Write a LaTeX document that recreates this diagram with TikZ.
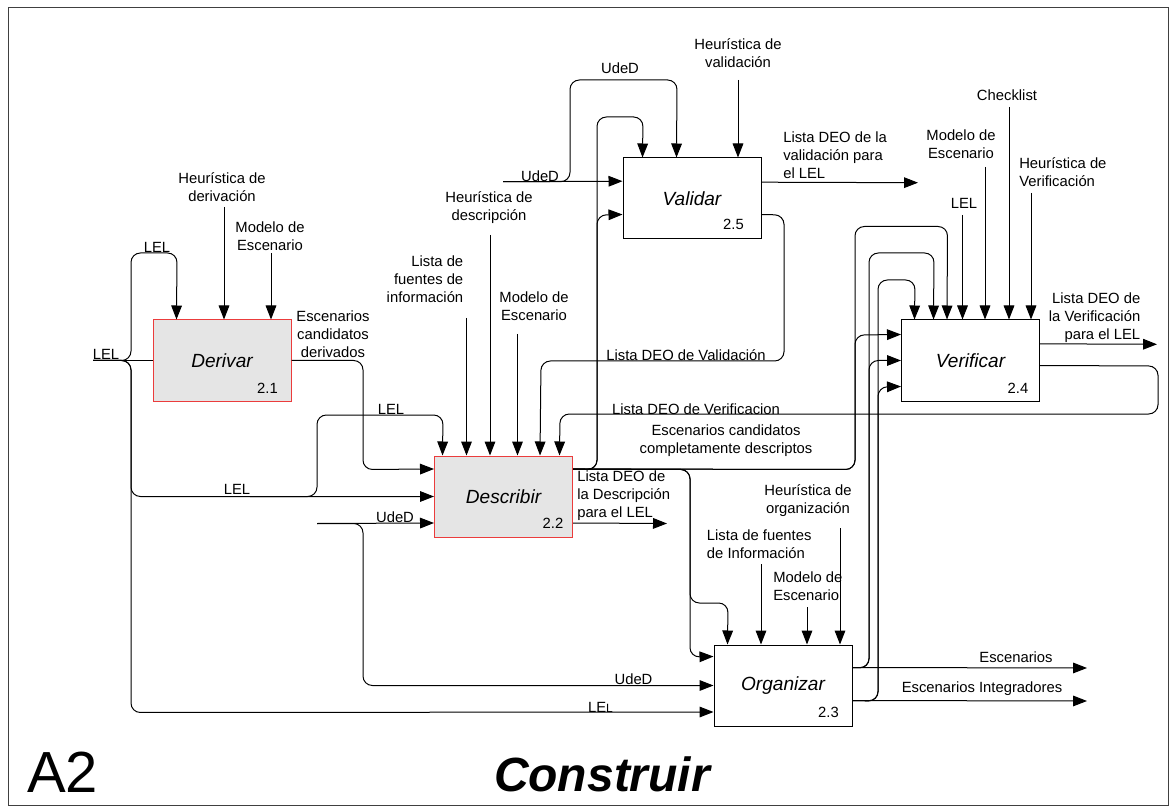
\documentclass[tikz,border=0pt]{standalone}
\usepackage{fontspec}
\setmainfont{Liberation Sans}
\usetikzlibrary{arrows.meta,calc}
\definecolor{boxred}{RGB}{235,60,60}
\tikzset{
  ln/.style={line width=0.75pt, rounded corners=7pt},
  arr/.style={ln, -{Triangle[length=10.5pt,width=8pt]}},
  box/.style={draw, line width=0.75pt, minimum width=103.5pt, minimum height=60.75pt, inner sep=0pt, fill=white, font=\fontsize{14.3}{16}\selectfont\itshape},
  redbox/.style={box, draw=boxred, fill=gray!20},
  num/.style={font=\fontsize{11.1}{13}\selectfont, inner sep=0pt},
  lbl/.style={font=\fontsize{11.1}{13.5}\selectfont, inner sep=0pt, align=center},
}
\begin{document}
\begin{tikzpicture}[x=0.75pt,y=-0.75pt]
\useasboundingbox (0,0) rectangle (1176,812);
\draw[line width=0.75pt, black!75] (8,8) rectangle (1168,805);

% boxes
\node[redbox] (der) at (222,360.5) {Derivar};
\node[redbox] (des) at (503.5,496.5) {Describir};
\node[box] (val) at (692,198.5) {Validar};
\node[box] (ver) at (970.5,360.5) {Verificar};
\node[box] (org) at (783,685.5) {Organizar};
\node[num] (n21) at ($(der.south east)+(-24,-13.5)$) {2.1};
\node[num] (n22) at ($(des.south east)+(-20,-14)$) {2.2};
\node[num] (n25) at ($(val.south east)+(-28,-15)$) {2.5};
\node[num] (n24) at ($(ver.south east)+(-22,-13.5)$) {2.4};
\node[num] (n23) at ($(org.south east)+(-24,-14)$) {2.3};

% ---- Derivar
\coordinate (lelin) at (93,360.5);
\node[lbl] (l1) at (106,354) {LEL};
\draw[ln] (lelin) -- (der.west);
\draw[arr] (lelin) -- (131,360.5) -- (131,253) -- (177,253) -- ($(der.north west)+(24,0)$);
\node[lbl] (l2) at (157,247) {LEL};
\draw[arr] (lelin) -- (131,360.5) -- (131,496.5) -- (des.west);
\node[lbl] (l3) at (237,489) {LEL};
\draw[arr] (lelin) -- (131,360.5) -- (131,712.5) -- ($(org.north west)+(0,67.5)$);
\node[lbl] (l4) at (600.5,707) {LE{\fontsize{9}{10}\selectfont L}};
\draw[arr] (250,496.5) -- (317,496.5) -- (317,415) -- (443,415) -- ($(des.north west)+(8.5,0)$);
\node[lbl] (l5) at (391,409) {LEL};

\node[lbl] (hd) at (222,187.5) {Heurística de\\derivación};
\coordinate (hdS) at (224,207); \draw[arr] (hdS) -- (hdS |- der.north);
\node[lbl] (me1) at (270,236) {Modelo de\\Escenario};
\coordinate (me1S) at (271,253); \draw[arr] (me1S) -- (me1S |- der.north);

\draw[arr] (der.east) -- (363,360.5) -- (363,469.5) -- ($(des.north west)+(0,13.5)$);
\node[lbl] (ecd) at (333,334) {Escenarios\\candidatos\\derivados};

% ---- Describir inputs
\coordinate (udin) at (317,523.5);
\draw[arr] (udin) -- ($(des.north west)+(0,67.5)$);
\node[lbl] (u1) at (395,517) {UdeD};
\draw[arr] (udin) -- (363,523.5) -- (363,685.5) -- (org.west);
\node[lbl] (u2) at (633.5,679) {UdeD};

\node[lbl, anchor=east, align=right] (lfi) at (463.5,279.5) {Lista de\\fuentes de\\información};
\coordinate (lfiS) at (466.5,318); \draw[arr] (lfiS) -- (lfiS |- des.north);
\node[lbl] (hdd) at (489,207.5) {Heurística de\\descripción};
\coordinate (hddS) at (490,235); \draw[arr] (hddS) -- (hddS |- des.north);
\node[lbl] (me2) at (534,306) {Modelo de\\Escenario};
\coordinate (me2S) at (517.5,334); \draw[arr] (me2S) -- (me2S |- des.north);

% ---- Describir outputs
\coordinate (dout) at ($(des.north east)+(0,13.5)$);
\draw[arr] (dout) -- (597,469.5) -- (597,117) -- (643,117) -- ($(val.north west)+(20,0)$);
\draw[arr] (dout) -- (597,469.5) -- (597,215) -- ($(val.north west)+(0,57)$);
\draw[arr] (dout) -- (690,469.5) -- (690,603) -- (728,603) -- ($(org.north west)+(14,0)$);
\draw[arr] (dout) -- (690,469.5) -- (690,657) -- ($(org.north west)+(0,12)$);
\draw[arr] (dout) -- (855,469.5) -- (855,226.5) -- (947.5,226.5) -- ($(ver.north west)+(46,0)$);
\draw[arr] (dout) -- (855,469.5) -- (855,335) -- ($(ver.north west)+(0,15)$);
\node[lbl] (ecc) at (726,441) {Escenarios candidatos\\completamente descriptos};
\draw[arr] ($(des.north east)+(0,67.5)$) -- (667,523.5);
\node[lbl, anchor=west, align=left] (ldd) at (577,495.5) {Lista DEO de\\la Descripción\\para el LEL};

% ---- Validar
\coordinate (udv) at (503,181.7);
\draw[arr] (udv) -- ($(val.north west)+(0,23.7)$);
\node[lbl] (u3) at (540,176.7) {UdeD};
\draw[arr] (udv) -- (570,181.7) -- (570,80) -- (677,80) -- ($(val.north west)+(54,0)$);
\node[lbl] (u4) at (620,68.5) {UdeD};
\node[lbl] (hv) at (738,53) {Heurística de\\validación};
\coordinate (hvS) at (738,80); \draw[arr] (hvS) -- (hvS |- val.north);
\draw[arr] ($(val.north east)+(0,24.7)$) -- (918,182.7);
\node[lbl, anchor=west, align=left] (ldv) at (783,155) {Lista DEO de la\\validación para\\el LEL};
\draw[arr] ($(val.north east)+(0,57)$) -- (784,215) -- (784,361) -- (541,361) -- ($(des.north west)+(106,0)$);
\node[lbl] (ldva) at (686,355) {Lista DEO de Validación};

% ---- Verificar
\node[lbl] (l6) at (964,203.5) {LEL};
\coordinate (l6S) at (962.5,215); \draw[arr] (l6S) -- (l6S |- ver.north);
\node[lbl] (me3) at (961,144) {Modelo de\\Escenario};
\coordinate (me3S) at (985,167); \draw[arr] (me3S) -- (me3S |- ver.north);
\node[lbl] (chk) at (1007,95.3) {Checklist};
\coordinate (chkS) at (1009,107); \draw[arr] (chkS) -- (chkS |- ver.north);
\node[lbl, anchor=west, align=left] (hve) at (1019,172) {Heurística de\\Verificación};
\coordinate (hveS) at (1031,193); \draw[arr] (hveS) -- (hveS |- ver.north);
\draw[arr] ($(ver.north east)+(0,24.3)$) -- (1157,344.3);
\node[lbl, anchor=east, align=right] (ldve) at (1140.5,318) {Lista DEO de\\la Verificación\\para el LEL};
\draw[arr] ($(ver.north east)+(0,46)$) -- (1158,366) -- (1158,414) -- (560,414) -- ($(des.north west)+(125.5,0)$);
\node[lbl] (ldvf) at (696,409) {Lista DEO de Verificacion};

% ---- Organizar
\node[lbl, anchor=west, align=left] (lfo) at (706.7,544.5) {Lista de fuentes\\de Información};
\coordinate (lfoS) at (761,564); \draw[arr] (lfoS) -- (lfoS |- org.north);
\node[lbl, anchor=west, align=left] (me4) at (773,586.5) {Modelo de\\Escenario};
\coordinate (me4S) at (807,607); \draw[arr] (me4S) -- (me4S |- org.north);
\node[lbl] (ho) at (808,501) {Heurística de\\organización};
\coordinate (hoS) at (840,528); \draw[arr] (hoS) -- (hoS |- org.north);

\coordinate (o1) at ($(org.north east)+(0,23)$);
\coordinate (o2) at ($(org.north east)+(0,56)$);
\draw[arr] (o1) -- (1087,668);
\node[lbl] (esc) at (1016,657.5) {Escenarios};
\draw[arr] (o2) -- (1087,701);
\node[lbl] (esi) at (982,689) {Escenarios Integradores};
\draw[arr] (o1) -- (869,668) -- (869,253) -- (934,253) -- ($(ver.north west)+(32.5,0)$);
\draw[arr] (o1) -- (869,668) -- (869,360.5) -- (ver.west);
\draw[arr] (o2) -- (878,701) -- (878,280) -- (915,280) -- ($(ver.north west)+(13.5,0)$);
\draw[arr] (o2) -- (878,701) -- (878,387) -- ($(ver.north west)+(0,67)$);

% ---- title
\node[anchor=west, inner sep=0pt, font=\fontsize{43.5}{50}\selectfont] (a2) at (27,772) {A2};
\node[inner sep=0pt, font=\fontsize{36}{40}\selectfont\bfseries\itshape] (tit) at (602,774) {Construir};
\end{tikzpicture}
\end{document}
